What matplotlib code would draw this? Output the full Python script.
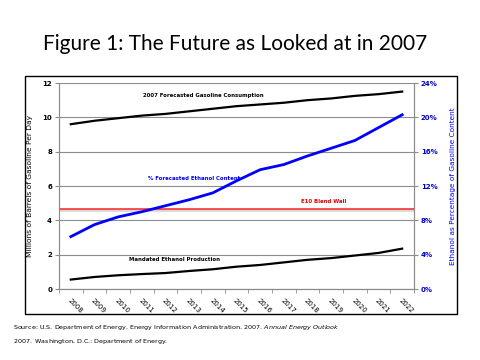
import numpy as np
import matplotlib
matplotlib.use('Agg')
import matplotlib.pyplot as plt
from matplotlib.patches import Rectangle

# ---- data ----
years = ['2008', '2009', '2010', '2011', '2012', '2013', '2014', '2015',
         '2016', '2017', '2018', '2019', '2020', '2021', '2022']
gasoline = [9.6, 9.8, 9.95, 10.1, 10.2, 10.35, 10.5, 10.65,
            10.75, 10.85, 11.0, 11.1, 11.25, 11.35, 11.5]
mandated = [0.55, 0.7, 0.8, 0.87, 0.93, 1.05, 1.15, 1.3,
            1.4, 1.55, 1.7, 1.8, 1.95, 2.1, 2.35]
ethanol_pct = [6.1, 7.5, 8.4, 9.0, 9.7, 10.4, 11.2, 12.6,
               13.9, 14.5, 15.5, 16.4, 17.3, 18.8, 20.3]
blend_wall = 9.3
left_ticks = [0, 2, 4, 6, 8, 10, 12]
right_ticks = [0, 4, 8, 12, 16, 20, 24]

grid_gray = '#8c8c8c'

fig = plt.figure(figsize=(4.8, 3.6), dpi=100)

# outer frame around the chart
fig.patches.append(Rectangle((25 / 480, 1 - 314 / 360), 432 / 480, 238 / 360,
                             transform=fig.transFigure, fill=False,
                             edgecolor='black', linewidth=1.0))

fig.text(0.49, 1 - 44 / 360, 'Figure 1: The Future as Looked at in 2007',
         ha='center', va='center', fontsize=15, family='Lato')

ax = fig.add_axes([59 / 480, 1 - 289 / 360, 355 / 480, 206 / 360])
x = np.arange(len(years))

ax.plot(x, gasoline, color='black', lw=1.6, zorder=3)
ax.plot(x, mandated, color='black', lw=1.6, zorder=3)

ax.set_xlim(-0.5, len(years) - 0.5)
ax.set_ylim(0, 12)
ax.set_yticks(left_ticks)
ax.set_yticklabels([str(t) for t in left_ticks], fontsize=5, fontweight='bold')
ax.set_xticks(x)
ax.set_xticklabels(years, rotation=-45, ha='left', va='top', fontsize=5,
                   rotation_mode='anchor')
ax.set_xticks(np.arange(-0.5, len(years)), minor=True)
ax.tick_params(axis='x', which='major', length=0, pad=6)
ax.tick_params(axis='x', which='minor', length=3, color=grid_gray)
ax.tick_params(axis='y', length=3, color=grid_gray, pad=2)
ax.grid(axis='y', color=grid_gray, lw=0.8)
ax.set_axisbelow(True)
for s in ['top']:
    ax.spines[s].set_visible(False)
for s in ['left', 'right', 'bottom']:
    ax.spines[s].set_color(grid_gray)
ax.set_ylabel('Millions of Barrels of Gasoline Per Day', fontsize=5.4, labelpad=7)

ax2 = ax.twinx()
ax2.axhline(blend_wall - 0.12, color='#d8d8d8', lw=2.0, zorder=1)
ax2.axhline(blend_wall, color='#ff2020', lw=1.1, zorder=2)
ax2.plot(x, ethanol_pct, color='#0000ff', lw=2.0, zorder=3)
ax2.set_ylim(0, 24)
ax2.set_yticks(right_ticks)
ax2.set_yticklabels([f'{t}%' for t in right_ticks], fontsize=5,
                    fontweight='bold', color='#0000cc')
ax2.tick_params(axis='y', length=3, color=grid_gray, pad=2)
for s in ['top']:
    ax2.spines[s].set_visible(False)
for s in ['left', 'right', 'bottom']:
    ax2.spines[s].set_color(grid_gray)
ax2.set_ylabel('Ethanol as Percentage of Gasoline Content', fontsize=5.3,
               color='#0000ff', labelpad=9)

# series labels
ax.text(5.6, 11.25, '2007 Forecasted Gasoline Consumption', fontsize=3.9,
        fontweight='bold', ha='center', va='center')
ax.text(5.2, 6.45, '% Forecasted Ethanol Content', fontsize=3.9,
        fontweight='bold', ha='center', va='center', color='#0000ff')
ax.text(10.7, 5.1, 'E10 Blend Wall', fontsize=3.9,
        fontweight='bold', ha='center', va='center', color='#e00000')
ax.text(4.4, 1.7, 'Mandated Ethanol Production', fontsize=3.9,
        fontweight='bold', ha='center', va='center')

# source note
fig.text(13 / 480, 1 - 328 / 360,
         'Source: U.S. Department of Energy. Energy Information Administration. 2007. '
         r'$\it{Annual\ Energy\ Outlook}$',
         fontsize=4.6, ha='left', va='center')
fig.text(13 / 480, 1 - 341 / 360,
         r'$\it{2007.}$ Washington, D.C.: Department of Energy.',
         fontsize=4.6, ha='left', va='center')

fig.savefig('out.png', dpi=100)
